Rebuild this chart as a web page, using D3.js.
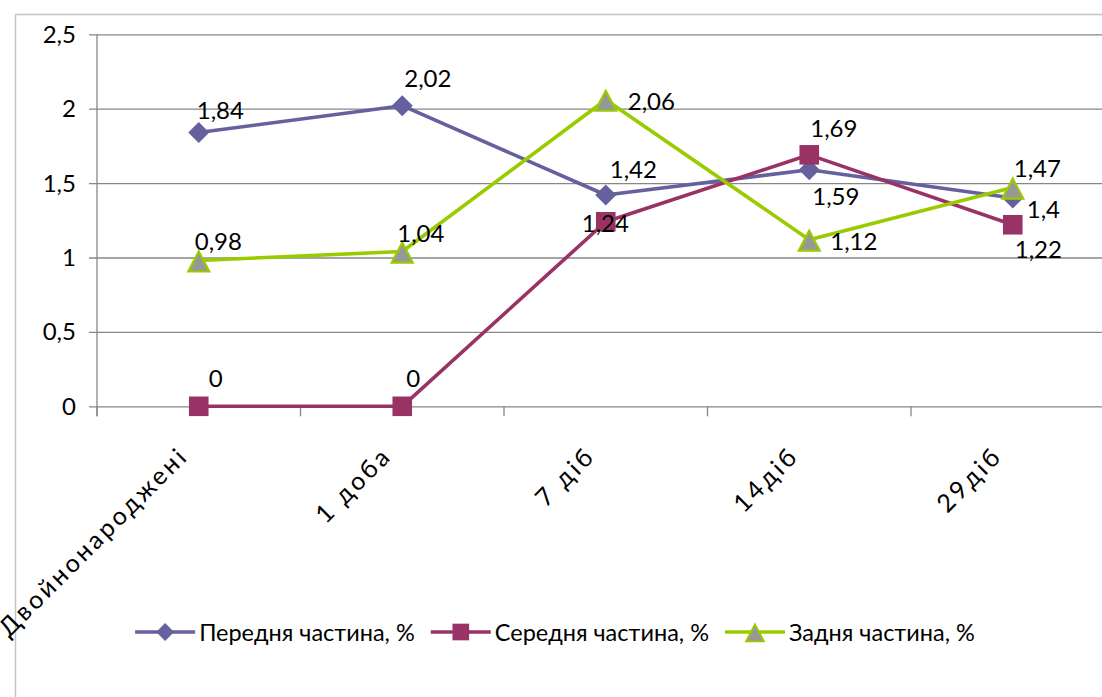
<!DOCTYPE html>
<html>
<head>
<meta charset="utf-8">
<script src="https://cdn.jsdelivr.net/npm/d3@7"></script>
<style>
  body { margin: 0; background: #fff; }
  svg { display: block; }
  text { font-family: Lato, "Open Sans", sans-serif; fill: #000; }
</style>
</head>
<body>
<svg id="chart" width="1102" height="697"></svg>
<script>
// Categories, series and axis ticks
const categories = ["Двойнонароджені", "1 доба", "7 діб", "14діб", "29діб"];
const seriesNames = ["Передня частина, %", "Середня частина, %", "Задня частина, %"];
const frontValues = [1.84, 2.02, 1.42, 1.59, 1.4];
const middleValues = [0, 0, 1.24, 1.69, 1.22];
const rearValues = [0.98, 1.04, 2.06, 1.12, 1.47];
const yTicks = [0, 0.5, 1, 1.5, 2, 2.5];

// Nudges [dx, dy] of each value label relative to its point (left edge, baseline)
const frontLabelNudge = [[-2, -14], [2, -19], [4, -17], [3, 35], [14, 20]];
const middleLabelNudge = [[10, -19], [4, -19], [-24, 10], [1, -18], [2, 33]];
const rearLabelNudge = [[-4, -10], [-5, -10], [22, 10], [21, 10], [1, -11]];

const fmt = v => String(v).replace(".", ",");

const svg = d3.select("#chart");
const plot = { left: 97, top: 34.3, bottom: 406.3, step: 203.5 };
const plotRight = plot.left + plot.step * categories.length;

const x = d3.scalePoint().domain(categories).range([plot.left, plotRight]).padding(0.5);
const y = d3.scaleLinear().domain([0, 2.5]).range([plot.bottom, plot.top]);

// Chart area frame
svg.append("rect")
  .attr("x", 15.5).attr("y", 14.5).attr("width", 1300).attr("height", 900)
  .attr("fill", "none").attr("stroke", "#c4c4c4").attr("stroke-width", 1.5);

// Horizontal gridlines with left tick marks
const grid = svg.append("g")
  .attr("transform", `translate(${plot.left},0)`)
  .call(d3.axisLeft(y).tickValues(yTicks).tickSize(-(plotRight - plot.left)).tickFormat(""))
  .call(g => g.select(".domain").remove());
grid.selectAll(".tick line")
  .attr("x1", -8).attr("stroke", "#878787").attr("stroke-width", 1.3);

// Y tick labels
svg.append("g").selectAll("text").data(yTicks).join("text")
  .attr("x", 76).attr("y", d => y(d) + 8.5)
  .attr("text-anchor", "end").attr("font-size", 24)
  .text(d => fmt(d));

// Vertical axis line
svg.append("line")
  .attr("x1", plot.left).attr("x2", plot.left)
  .attr("y1", plot.top).attr("y2", plot.bottom + 10)
  .attr("stroke", "#878787").attr("stroke-width", 1.3);

// Category tick marks between categories
const boundaries = d3.range(categories.length + 1).map(i => plot.left + plot.step * i);
svg.append("g").selectAll("line").data(boundaries).join("line")
  .attr("x1", d => d).attr("x2", d => d)
  .attr("y1", plot.bottom).attr("y2", plot.bottom + 10)
  .attr("stroke", "#878787").attr("stroke-width", 1.3);

// Rotated category labels
svg.append("g").selectAll("text").data(categories).join("text")
  .attr("transform", d => `translate(${x(d) - 9},${plot.bottom + 51}) rotate(-45)`)
  .attr("text-anchor", "end").attr("font-size", 25).attr("letter-spacing", 3)
  .text(d => d);

// Marker shapes
const markerPath = {
  diamond: "M0,-10.5L10.5,0L0,10.5L-10.5,0Z",
  square: "M-9.8,-9.8H9.8V9.8H-9.8Z",
  triangle: "M0,-9L10.5,11L-10.5,11Z"
};

const series = [
  { name: seriesNames[0], values: frontValues, nudge: frontLabelNudge, color: "#65609e", fill: "#65609e", stroke: "none", marker: "diamond" },
  { name: seriesNames[1], values: middleValues, nudge: middleLabelNudge, color: "#993366", fill: "#993366", stroke: "none", marker: "square" },
  { name: seriesNames[2], values: rearValues, nudge: rearLabelNudge, color: "#99cc00", fill: "#979797", stroke: "#99cc00", marker: "triangle" }
];

const line = d3.line().x((d, i) => x(categories[i])).y(d => y(d));

series.forEach(s => {
  const g = svg.append("g");
  g.append("path")
    .attr("d", line(s.values))
    .attr("fill", "none").attr("stroke", s.color).attr("stroke-width", 3.6)
    .attr("stroke-linejoin", "round");
  g.selectAll("path.m").data(s.values).join("path")
    .attr("class", "m")
    .attr("transform", (d, i) => `translate(${x(categories[i])},${y(d)})`)
    .attr("d", markerPath[s.marker])
    .attr("fill", s.fill).attr("stroke", s.stroke).attr("stroke-width", 2.2);
});

// Value labels
series.forEach(s => {
  svg.append("g").selectAll("text").data(s.values).join("text")
    .attr("x", (d, i) => x(categories[i]) + s.nudge[i][0])
    .attr("y", (d, i) => y(d) + s.nudge[i][1])
    .attr("font-size", 24)
    .text(d => fmt(d));
});

// Legend
const legend = svg.append("g").attr("transform", "translate(0,632)");
const items = legend.selectAll("g").data(series).join("g");
items.append("line")
  .attr("x1", 0).attr("x2", 60).attr("y1", 0).attr("y2", 0)
  .attr("stroke", d => d.color).attr("stroke-width", 3.6);
items.append("path")
  .attr("transform", "translate(30,0) scale(0.85)")
  .attr("d", d => markerPath[d.marker])
  .attr("fill", d => d.fill).attr("stroke", d => d.stroke).attr("stroke-width", 2.2);
items.append("text")
  .attr("x", 64).attr("y", 8.5).attr("font-size", 23.5)
  .text(d => d.name);

const widths = [];
items.each(function () {
  widths.push(64 + this.querySelector("text").getComputedTextLength());
});
const gap = 16;
const total = d3.sum(widths) + gap * (widths.length - 1);
let cursor = 555 - total / 2;
items.attr("transform", (d, i) => {
  const t = `translate(${cursor},0)`;
  cursor += widths[i] + gap;
  return t;
});
</script>
</body>
</html>
